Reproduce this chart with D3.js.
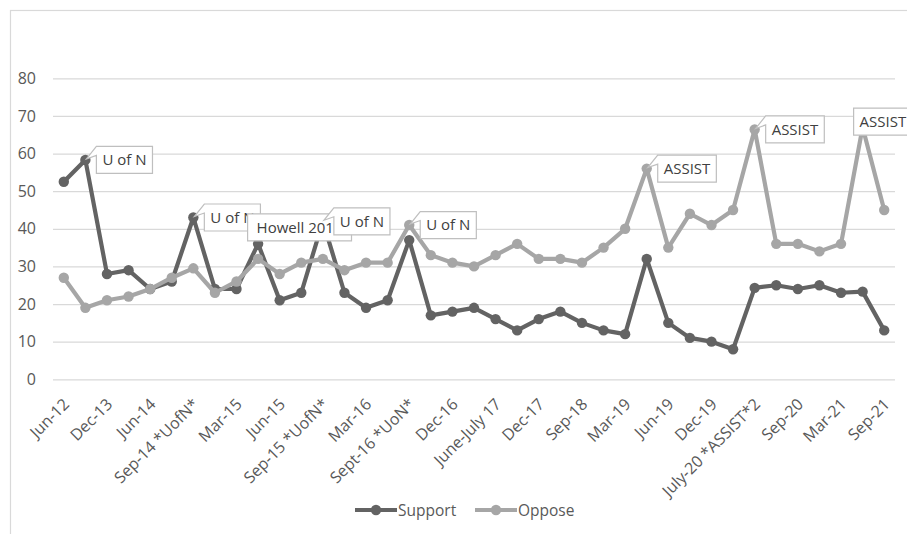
<!DOCTYPE html>
<html>
<head>
<meta charset="utf-8">
<script src="https://cdn.jsdelivr.net/npm/d3@7/dist/d3.min.js"></script>
<style>
  html, body { margin: 0; padding: 0; background: #fff; }
  svg { display: block; font-family: "Open Sans", sans-serif; }
</style>
</head>
<body>
<svg id="chart" width="907" height="534"></svg>
<script>
// Survey rounds (every other one is labelled on the axis)
const categories = [
  "Jun-12", "Jun-13", "Dec-13", "Mar-14", "Jun-14", "Jul-14", "Sep-14 *UofN*", "Dec-14",
  "Mar-15", "Apr-15", "Jun-15", "Jul-15", "Sep-15 *UofN*", "Dec-15", "Mar-16", "Jun-16",
  "Sept-16 *UoN*", "Oct-16", "Dec-16", "Mar-17", "June-July 17", "Sep-17", "Dec-17", "Mar-18",
  "Sep-18", "Dec-18", "Mar-19", "Apr-19", "Jun-19", "Sep-19", "Dec-19", "Mar-20",
  "July-20 *ASSIST*2", "Aug-20", "Sep-20", "Dec-20", "Mar-21", "Jun-21", "Sep-21"
];

const support = [
  52.5, 58.3, 28, 29, 24, 26, 43, 24, 24, 36, 21, 23, 42, 23, 19, 21,
  37, 17, 18, 19, 16, 13, 16, 18, 15, 13, 12, 32, 15, 11, 10, 8,
  24.3, 25, 24, 25, 23, 23.3, 13
];

const oppose = [
  27, 19, 21, 22, 24, 27, 29.5, 23, 26, 32, 28, 31, 32, 29, 31, 31,
  41, 33, 31, 30, 33, 36, 32, 32, 31, 35, 40, 56, 35, 44, 41, 45,
  66.4, 36, 36, 34, 36, 67, 45
];

const yTicks = [0, 10, 20, 30, 40, 50, 60, 70, 80];

// Callout annotations: which series, which round, what it says
const calloutSeries = ["Support", "Support", "Support", "Support", "Oppose", "Oppose", "Oppose", "Oppose"];
const calloutIndex  = [1, 6, 9, 12, 16, 27, 32, 37];
const calloutText   = ["U of N", "U of N", "Howell 2015", "U of N", "U of N", "ASSIST", "ASSIST", "ASSIST"];

const series = [
  { name: "Support", values: support, color: "#636363" },
  { name: "Oppose",  values: oppose,  color: "#a6a6a6" }
];

const FONT = "'Open Sans', sans-serif";
const svg = d3.select("#chart");

// chart frame
svg.append("rect")
  .attr("x", 10.5).attr("y", 10.5)
  .attr("width", 920).attr("height", 560)
  .attr("fill", "none").attr("stroke", "#d9d9d9").attr("stroke-width", 1.2);

const x = d3.scalePoint().domain(categories).range([53, 895]).padding(0.5);
const y = d3.scaleLinear().domain([0, 80]).range([379.3, 78.3]);

// y axis + horizontal gridlines
const yAxis = svg.append("g")
  .attr("transform", "translate(53,0)")
  .call(d3.axisLeft(y).tickValues(yTicks).tickSize(-(895 - 53)).tickFormat(d3.format("d")));
yAxis.select(".domain").remove();
yAxis.selectAll(".tick line").attr("stroke", "#d9d9d9").attr("stroke-width", 1.3);
yAxis.selectAll(".tick text")
  .attr("x", -17).attr("text-anchor", "end")
  .attr("fill", "#595959").style("font-size", "16px").style("font-family", FONT);

// x axis labels, rotated
const xAxis = svg.append("g")
  .attr("transform", "translate(0,379.3)")
  .call(d3.axisBottom(x).tickValues(categories.filter((d, i) => i % 2 === 0)).tickSize(0));
xAxis.select(".domain").remove();
xAxis.selectAll(".tick text")
  .attr("fill", "#595959")
  .style("font-size", "16px").style("font-family", FONT)
  .attr("text-anchor", "end")
  .attr("dy", null).attr("y", null)
  .attr("transform", "translate(6,26) rotate(-45)");

// lines and markers
const line = d3.line().x((d, i) => x(categories[i])).y(d => y(d));
series.forEach(s => {
  const g = svg.append("g").attr("class", "series");
  g.append("path")
    .attr("d", line(s.values))
    .attr("fill", "none").attr("stroke", s.color)
    .attr("stroke-width", 4.2).attr("stroke-linejoin", "round");
  g.selectAll("circle").data(s.values).join("circle")
    .attr("cx", (d, i) => x(categories[i]))
    .attr("cy", d => y(d))
    .attr("r", 5.2)
    .attr("fill", s.color);
});

// callout boxes with wedge tails
const boxOffset = (k) => {
  if (calloutText[k].startsWith("Howell")) return [-10.5, -30];
  if (calloutIndex[k] === 37) return [-9, -19];
  return [11, -13.5];
};
const labelLayer = svg.append("g");
calloutText.forEach((txt, k) => {
  const s = series.find(d => d.name === calloutSeries[k]);
  const i = calloutIndex[k];
  const px = x(categories[i]), py = y(s.values[i]);
  const [ox, oy] = boxOffset(k);
  const g = labelLayer.append("g");
  const t = g.append("text")
    .text(txt)
    .style("font-size", "15px").style("font-family", FONT)
    .attr("fill", "#404040");
  const tw = t.node().getComputedTextLength();
  const pad = txt.startsWith("Howell") ? 9 : 6;
  const bw = tw + 2 * pad, bh = 27;
  const bx = px + ox, by = py + oy;
  let pts;
  if (px < bx - 2 && py > by + 9) {
    pts = [[bx, by], [bx + bw, by], [bx + bw, by + bh], [bx, by + bh], [bx, by + 9], [px + 1, py - 1]];
  } else {
    pts = [[bx, by], [bx + bw, by], [bx + bw, by + bh], [bx, by + bh]];
  }
  g.insert("path", "text")
    .attr("d", "M" + pts.map(p => p.join(",")).join("L") + "Z")
    .attr("fill", "#fff").attr("stroke", "#bfbfbf").attr("stroke-width", 1.2);
  t.attr("x", bx + pad).attr("y", by + bh / 2).attr("dy", "0.36em");
});

// legend
const legendItems = [
  { name: "Support", color: "#636363", x0: 355 },
  { name: "Oppose",  color: "#a6a6a6", x0: 475 }
];
const legend = svg.append("g");
legendItems.forEach(it => {
  legend.append("line")
    .attr("x1", it.x0).attr("x2", it.x0 + 42).attr("y1", 510).attr("y2", 510)
    .attr("stroke", it.color).attr("stroke-width", 4.2);
  legend.append("circle").attr("cx", it.x0 + 21).attr("cy", 510).attr("r", 5.2).attr("fill", it.color);
  legend.append("text")
    .attr("x", it.x0 + 43).attr("y", 510).attr("dy", "0.36em")
    .attr("fill", "#595959")
    .style("font-size", "15.5px").style("font-family", FONT)
    .text(it.name);
});
</script>
</body>
</html>
